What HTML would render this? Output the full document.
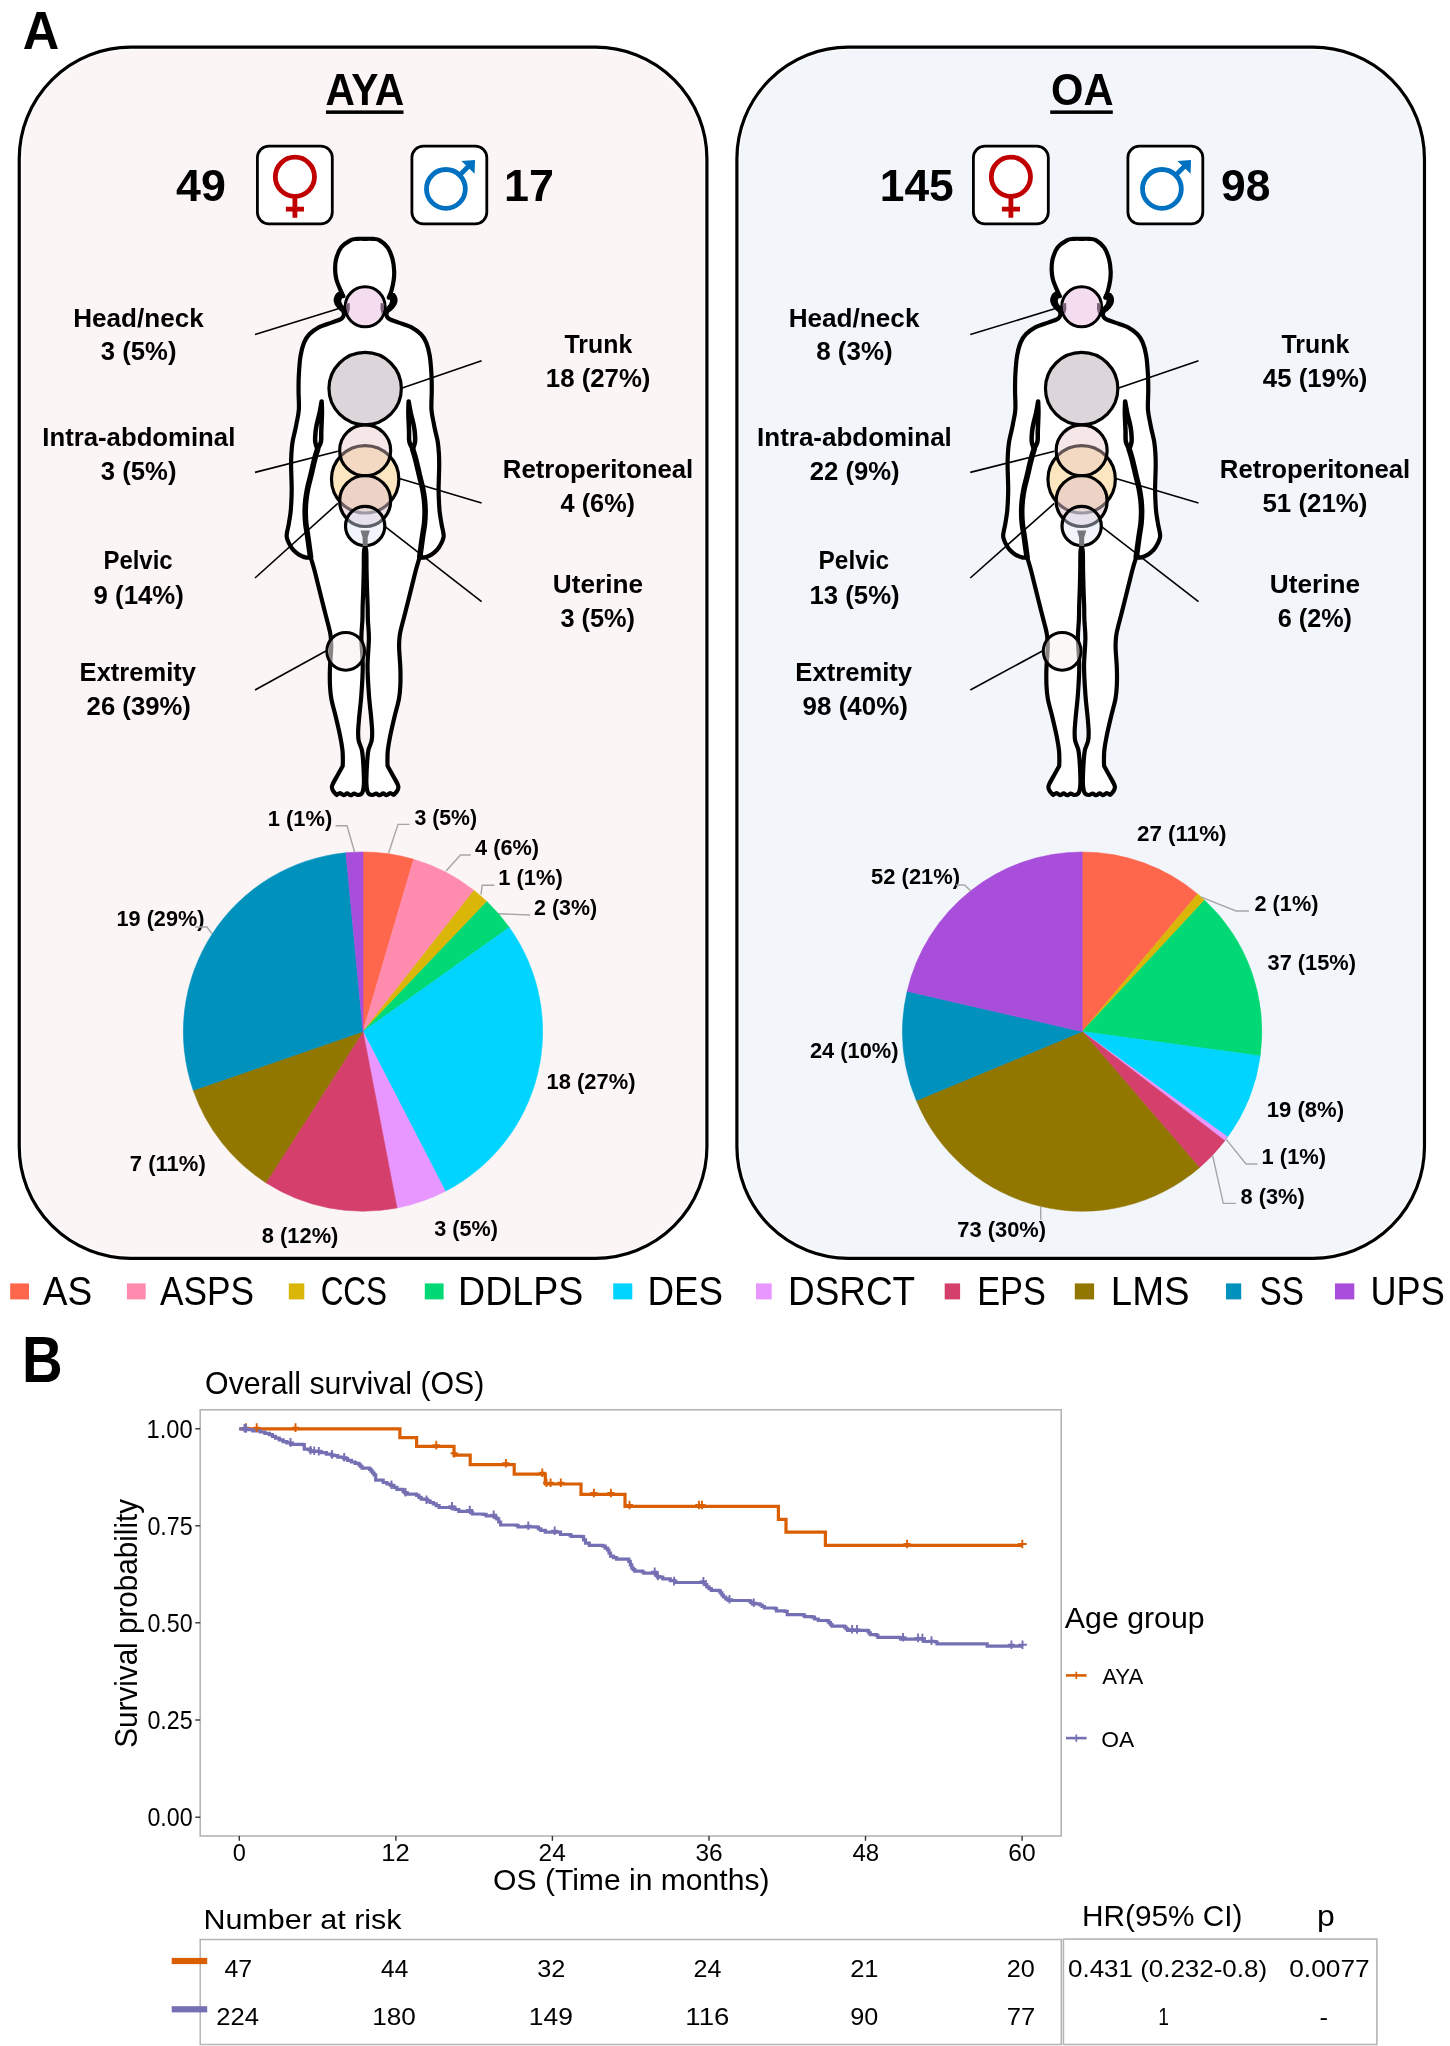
<!DOCTYPE html><html><head><meta charset="utf-8"><title>Figure</title><style>html,body{margin:0;padding:0;background:#fff}svg{display:block;will-change:transform}text{font-family:"Liberation Sans",sans-serif;fill:#000}</style></head><body>
<svg width="1450" height="2046" viewBox="0 0 1450 2046">
<rect width="1450" height="2046" fill="#fff"/>
<text x="22.79" y="49.10" font-size="53.34" textLength="36.54" lengthAdjust="spacingAndGlyphs" font-weight="bold">A</text>
<text x="21.98" y="1382.00" font-size="65.26" textLength="40.66" lengthAdjust="spacingAndGlyphs" font-weight="bold">B</text>
<rect x="22.05" y="50.00" width="682.05" height="1205.55" rx="108.7" fill="#FBF5F5"/><rect x="19.25" y="47.20" width="687.65" height="1211.15" rx="111.5" fill="none" stroke="#000" stroke-width="3.2"/>
<rect x="739.70" y="50.00" width="681.95" height="1205.55" rx="108.7" fill="#F2F6FB"/><rect x="736.90" y="47.20" width="687.55" height="1211.15" rx="111.5" fill="none" stroke="#000" stroke-width="3.2"/>
<text x="325.52" y="104.80" font-size="45.20" textLength="78.63" lengthAdjust="spacingAndGlyphs" font-weight="bold">AYA</text>
<rect x="326" y="110.4" width="77.5" height="3.5" fill="#000"/>
<text x="1050.99" y="104.80" font-size="45.20" textLength="62.49" lengthAdjust="spacingAndGlyphs" font-weight="bold">OA</text>
<rect x="1050.2" y="110.4" width="62.6" height="3.5" fill="#000"/>
<rect x="257.4" y="146.1" width="74.9" height="77.7" rx="11.5" fill="#fff" stroke="#000" stroke-width="2.8"/><rect x="411.9" y="146.1" width="74.9" height="77.7" rx="11.5" fill="#fff" stroke="#000" stroke-width="2.8"/><g fill="none" stroke="#C00000" stroke-width="4.8"><circle cx="294.9" cy="176.8" r="19.6"/><path d="M294.9 196.4V217.8M285.9 209.2H304.0"/></g><g fill="none" stroke="#0070C0" stroke-width="4.8"><circle cx="445.9" cy="188.9" r="19.4"/><path d="M459.6 175.2L470.3 164.5"/></g><path d="M461.4 160.9L475.0 160.1L474.6 173.7Z" fill="#0070C0"/>
<rect x="973.4" y="146.1" width="74.9" height="77.7" rx="11.5" fill="#fff" stroke="#000" stroke-width="2.8"/><rect x="1127.9" y="146.1" width="74.9" height="77.7" rx="11.5" fill="#fff" stroke="#000" stroke-width="2.8"/><g fill="none" stroke="#C00000" stroke-width="4.8"><circle cx="1010.9" cy="176.8" r="19.6"/><path d="M1010.9 196.4V217.8M1001.9 209.2H1020.0"/></g><g fill="none" stroke="#0070C0" stroke-width="4.8"><circle cx="1161.9" cy="188.9" r="19.4"/><path d="M1175.6 175.2L1186.3 164.5"/></g><path d="M1177.4 160.9L1191.0 160.1L1190.6 173.7Z" fill="#0070C0"/>
<text x="176.13" y="201.00" font-size="44.19" textLength="49.80" lengthAdjust="spacingAndGlyphs" font-weight="bold">49</text>
<text x="504.02" y="201.00" font-size="44.19" textLength="49.93" lengthAdjust="spacingAndGlyphs" font-weight="bold">17</text>
<text x="879.75" y="201.00" font-size="44.19" textLength="73.97" lengthAdjust="spacingAndGlyphs" font-weight="bold">145</text>
<text x="1220.99" y="201.00" font-size="44.19" textLength="49.35" lengthAdjust="spacingAndGlyphs" font-weight="bold">98</text>
<g transform="translate(0.0,0)">
<path d="M365.15 238.80C363.82 238.82 359.62 238.65 357.15 238.90C354.68 239.15 353.03 238.85 350.35 240.30C347.67 241.75 343.43 244.43 341.05 247.60C338.67 250.77 337.03 255.58 336.05 259.30C335.07 263.02 335.10 266.58 335.15 269.90C335.20 273.22 335.57 276.08 336.35 279.20C337.13 282.32 338.68 285.77 339.85 288.60C341.02 291.43 342.77 294.93 343.35 296.20L343.35 296.20C342.82 295.75 341.22 293.53 340.15 293.50C339.08 293.47 337.67 294.67 336.95 296.00C336.23 297.33 335.57 299.77 335.85 301.50C336.13 303.23 337.60 305.28 338.65 306.40C339.70 307.52 341.57 307.90 342.15 308.20L342.15 308.20C342.45 309.23 344.13 312.58 343.95 314.40C343.77 316.22 343.10 317.73 341.05 319.10C339.00 320.47 335.37 321.23 331.65 322.60C327.93 323.97 322.47 325.35 318.75 327.30C315.03 329.25 311.80 331.75 309.35 334.30C306.90 336.85 305.52 339.02 304.05 342.60C302.58 346.18 301.42 350.47 300.55 355.80C299.68 361.13 299.18 368.73 298.85 374.60C298.52 380.47 298.55 385.15 298.55 391.00C298.55 396.85 299.20 404.23 298.85 409.70C298.50 415.17 297.06 420.42 296.45 423.80C295.84 427.18 295.84 427.02 295.20 430.00C294.56 432.98 293.23 437.78 292.60 441.70C291.97 445.62 291.65 449.58 291.40 453.50C291.15 457.42 291.10 461.30 291.10 465.20C291.10 469.10 291.30 472.98 291.40 476.90C291.50 480.82 291.70 484.78 291.70 488.70C291.70 492.62 291.58 496.50 291.40 500.40C291.22 504.30 291.03 508.20 290.60 512.10C290.17 516.00 289.40 520.38 288.80 523.80C288.20 527.22 287.35 530.45 287.00 532.60C286.65 534.75 286.54 535.30 286.70 536.70C286.86 538.10 287.41 539.62 287.95 541.00C288.49 542.38 289.08 543.53 289.95 545.00C290.82 546.47 291.67 548.20 293.15 549.80C294.63 551.40 296.63 553.30 298.85 554.60C301.07 555.90 304.50 557.20 306.45 557.60C308.40 558.00 309.87 557.10 310.55 557.00L310.55 557.00C311.16 559.05 312.98 564.83 314.20 569.30C315.42 573.77 316.64 578.97 317.85 583.80C319.06 588.63 320.24 593.47 321.45 598.30C322.66 603.13 323.92 608.18 325.10 612.80C326.28 617.42 327.67 622.47 328.55 626.00C329.42 629.53 329.93 631.50 330.35 634.00C330.77 636.50 330.92 638.50 331.05 641.00C331.18 643.50 331.33 644.45 331.15 649.00C330.97 653.55 330.15 662.30 329.95 668.30C329.75 674.30 329.72 679.90 329.95 685.00C330.18 690.10 330.35 693.48 331.35 698.90C332.35 704.32 334.48 711.30 335.95 717.50C337.42 723.70 339.07 730.68 340.15 736.10C341.23 741.52 342.00 746.02 342.45 750.00C342.90 753.98 342.81 757.35 342.85 760.00C342.89 762.65 342.72 764.92 342.70 765.90L342.70 765.90C342.38 766.48 341.61 767.85 340.75 769.40C339.89 770.95 338.90 772.72 337.55 775.20C336.20 777.68 333.58 782.23 332.65 784.30C331.72 786.37 331.85 786.45 331.95 787.60C332.05 788.75 332.47 789.98 333.25 791.20C334.03 792.42 336.08 794.28 336.65 794.90L336.65 794.80C337.23 794.53 338.98 793.13 340.15 793.20C341.32 793.27 342.48 795.17 343.65 795.20C344.82 795.23 345.98 793.40 347.15 793.40C348.32 793.40 349.48 795.17 350.65 795.20C351.82 795.23 352.98 793.63 354.15 793.60C355.32 793.57 356.48 794.93 357.65 795.00C358.82 795.07 360.27 794.67 361.15 794.00C362.03 793.33 362.48 792.92 362.95 791.00C363.42 789.08 363.85 786.23 363.95 782.50C364.05 778.77 363.62 770.92 363.55 768.60L363.55 768.60C363.45 767.05 363.23 762.40 362.95 759.30C362.67 756.20 362.57 753.10 361.85 750.00C361.13 746.90 359.27 743.80 358.65 740.70C358.03 737.60 358.07 735.27 358.15 731.40C358.23 727.53 358.61 723.68 359.15 717.50C359.69 711.32 360.80 702.82 361.40 694.30C362.00 685.78 362.75 675.68 362.75 666.40C362.75 657.12 361.46 646.33 361.40 638.60C361.34 630.87 362.19 625.43 362.40 620.00C362.61 614.57 362.51 611.00 362.65 606.00C362.79 601.00 363.07 596.00 363.25 590.00C363.43 584.00 363.63 576.33 363.75 570.00C363.87 563.67 363.72 555.95 363.95 552.00C364.18 548.05 364.95 547.25 365.15 546.30L365.15 546.30C365.35 547.25 366.12 548.05 366.35 552.00C366.58 555.95 366.43 563.67 366.55 570.00C366.67 576.33 366.87 584.00 367.05 590.00C367.23 596.00 367.51 601.00 367.65 606.00C367.79 611.00 367.69 614.57 367.90 620.00C368.11 625.43 368.96 630.87 368.90 638.60C368.84 646.33 367.55 657.12 367.55 666.40C367.55 675.68 368.30 685.78 368.90 694.30C369.50 702.82 370.61 711.32 371.15 717.50C371.69 723.68 372.07 727.53 372.15 731.40C372.23 735.27 372.27 737.60 371.65 740.70C371.03 743.80 369.17 746.90 368.45 750.00C367.73 753.10 367.63 756.20 367.35 759.30C367.07 762.40 366.85 767.05 366.75 768.60L366.75 768.60C366.68 770.92 366.25 778.77 366.35 782.50C366.45 786.23 366.88 789.08 367.35 791.00C367.82 792.92 368.27 793.33 369.15 794.00C370.03 794.67 371.48 795.07 372.65 795.00C373.82 794.93 374.98 793.57 376.15 793.60C377.32 793.63 378.48 795.23 379.65 795.20C380.82 795.17 381.98 793.40 383.15 793.40C384.32 793.40 385.48 795.23 386.65 795.20C387.82 795.17 388.98 793.27 390.15 793.20C391.32 793.13 393.07 794.53 393.65 794.80L393.65 794.90C394.22 794.28 396.27 792.42 397.05 791.20C397.83 789.98 398.25 788.75 398.35 787.60C398.45 786.45 398.58 786.37 397.65 784.30C396.72 782.23 394.10 777.68 392.75 775.20C391.40 772.72 390.41 770.95 389.55 769.40C388.69 767.85 387.92 766.48 387.60 765.90L387.60 765.90C387.57 764.92 387.41 762.65 387.45 760.00C387.49 757.35 387.40 753.98 387.85 750.00C388.30 746.02 389.07 741.52 390.15 736.10C391.23 730.68 392.88 723.70 394.35 717.50C395.82 711.30 397.95 704.32 398.95 698.90C399.95 693.48 400.12 690.10 400.35 685.00C400.58 679.90 400.55 674.30 400.35 668.30C400.15 662.30 399.33 653.55 399.15 649.00C398.97 644.45 399.12 643.50 399.25 641.00C399.38 638.50 399.53 636.50 399.95 634.00C400.37 631.50 400.88 629.53 401.75 626.00C402.62 622.47 404.02 617.42 405.20 612.80C406.38 608.18 407.64 603.13 408.85 598.30C410.06 593.47 411.24 588.63 412.45 583.80C413.66 578.97 414.88 573.77 416.10 569.30C417.32 564.83 419.14 559.05 419.75 557.00L419.75 557.00C420.43 557.10 421.90 558.00 423.85 557.60C425.80 557.20 429.23 555.90 431.45 554.60C433.67 553.30 435.67 551.40 437.15 549.80C438.63 548.20 439.48 546.47 440.35 545.00C441.22 543.53 441.81 542.38 442.35 541.00C442.89 539.62 443.44 538.10 443.60 536.70C443.76 535.30 443.65 534.75 443.30 532.60C442.95 530.45 442.10 527.22 441.50 523.80C440.90 520.38 440.13 516.00 439.70 512.10C439.27 508.20 439.08 504.30 438.90 500.40C438.72 496.50 438.60 492.62 438.60 488.70C438.60 484.78 438.80 480.82 438.90 476.90C439.00 472.98 439.20 469.10 439.20 465.20C439.20 461.30 439.15 457.42 438.90 453.50C438.65 449.58 438.33 445.62 437.70 441.70C437.07 437.78 435.74 432.98 435.10 430.00C434.46 427.02 434.46 427.18 433.85 423.80C433.24 420.42 431.80 415.17 431.45 409.70C431.10 404.23 431.75 396.85 431.75 391.00C431.75 385.15 431.78 380.47 431.45 374.60C431.12 368.73 430.62 361.13 429.75 355.80C428.88 350.47 427.72 346.18 426.25 342.60C424.78 339.02 423.40 336.85 420.95 334.30C418.50 331.75 415.27 329.25 411.55 327.30C407.83 325.35 402.37 323.97 398.65 322.60C394.93 321.23 391.30 320.47 389.25 319.10C387.20 317.73 386.43 316.15 386.35 314.40C386.27 312.65 388.35 309.57 388.75 308.60L388.75 308.60C389.38 308.27 391.45 307.78 392.55 306.60C393.65 305.42 395.02 303.20 395.35 301.50C395.68 299.80 395.17 297.60 394.55 296.40C393.93 295.20 392.62 294.10 391.65 294.30C390.68 294.50 389.23 297.05 388.75 297.60L388.75 297.60C389.18 296.50 390.53 293.87 391.35 291.00C392.17 288.13 393.18 283.73 393.65 280.40C394.12 277.07 394.33 274.52 394.15 271.00C393.97 267.48 393.62 263.20 392.55 259.30C391.48 255.40 389.90 250.75 387.75 247.60C385.60 244.45 382.08 241.85 379.65 240.40C377.22 238.95 375.57 239.17 373.15 238.90C370.73 238.63 366.48 238.82 365.15 238.80Z" fill="#fff" stroke="#000" stroke-width="4.2" stroke-linejoin="round"/><path d="M321.65 401.50C321.30 403.42 320.35 409.25 319.55 413.00C318.75 416.75 317.52 420.83 316.85 424.00C316.18 427.17 315.82 429.05 315.55 432.00C315.28 434.95 314.92 438.80 315.25 441.70C315.58 444.60 317.17 448.12 317.55 449.40M321.65 401.50C321.70 403.42 321.97 409.25 321.95 413.00C321.93 416.75 321.67 420.83 321.55 424.00C321.43 427.17 321.35 429.05 321.25 432.00C321.15 434.95 321.57 438.80 320.95 441.70C320.33 444.60 318.12 448.12 317.55 449.40" fill="none" stroke="#000" stroke-width="4.5" stroke-linecap="round" stroke-linejoin="round"/><path d="M317.55 449.40C317.07 451.05 315.82 454.72 314.65 459.30C313.47 463.88 311.68 472.00 310.50 476.90C309.32 481.80 308.38 484.78 307.60 488.70C306.82 492.62 306.20 496.50 305.80 500.40C305.40 504.30 305.20 508.20 305.20 512.10C305.20 516.00 305.40 519.88 305.80 523.80C306.20 527.72 307.02 531.57 307.60 535.60C308.18 539.63 308.81 544.43 309.30 548.00C309.79 551.57 310.34 555.50 310.55 557.00" fill="none" stroke="#000" stroke-width="5.6" stroke-linecap="round"/><path d="M408.65 401.50C409.00 403.42 409.95 409.25 410.75 413.00C411.55 416.75 412.78 420.83 413.45 424.00C414.12 427.17 414.48 429.05 414.75 432.00C415.02 434.95 415.38 438.80 415.05 441.70C414.72 444.60 413.13 448.12 412.75 449.40M408.65 401.50C408.60 403.42 408.33 409.25 408.35 413.00C408.37 416.75 408.63 420.83 408.75 424.00C408.87 427.17 408.95 429.05 409.05 432.00C409.15 434.95 408.73 438.80 409.35 441.70C409.97 444.60 412.18 448.12 412.75 449.40" fill="none" stroke="#000" stroke-width="4.5" stroke-linecap="round" stroke-linejoin="round"/><path d="M412.75 449.40C413.23 451.05 414.47 454.72 415.65 459.30C416.82 463.88 418.62 472.00 419.80 476.90C420.97 481.80 421.92 484.78 422.70 488.70C423.48 492.62 424.10 496.50 424.50 500.40C424.90 504.30 425.10 508.20 425.10 512.10C425.10 516.00 424.90 519.88 424.50 523.80C424.10 527.72 423.28 531.57 422.70 535.60C422.12 539.63 421.49 544.43 421.00 548.00C420.51 551.57 419.96 555.50 419.75 557.00" fill="none" stroke="#000" stroke-width="5.6" stroke-linecap="round"/><path d="M340.15 295.60C339.82 296.42 338.25 298.83 338.15 300.50C338.05 302.17 338.92 304.28 339.55 305.60C340.18 306.92 341.55 307.93 341.95 308.40" fill="none" stroke="#000" stroke-width="6.2" stroke-linecap="round"/><path d="M391.15 295.60C391.48 296.42 393.05 298.83 393.15 300.50C393.25 302.17 392.38 304.28 391.75 305.60C391.12 306.92 389.75 307.93 389.35 308.40" fill="none" stroke="#000" stroke-width="6.2" stroke-linecap="round"/>
<circle cx="365.15" cy="306.80" r="20.00" fill="rgba(236,190,226,0.52)" stroke="#000" stroke-width="3.0"/><circle cx="365.15" cy="388.60" r="36.20" fill="rgba(186,172,180,0.5)" stroke="#000" stroke-width="3.2"/><circle cx="365.15" cy="479.30" r="33.70" fill="rgba(250,205,130,0.5)" stroke="#000" stroke-width="3.2"/><circle cx="365.15" cy="450.40" r="25.50" fill="rgba(232,198,198,0.42)" stroke="#000" stroke-width="3.2"/><circle cx="365.15" cy="501.00" r="25.50" fill="rgba(220,192,202,0.5)" stroke="#000" stroke-width="3.2"/><circle cx="365.15" cy="526.00" r="19.65" fill="rgba(222,230,246,0.42)" stroke="#000" stroke-width="3.2"/><circle cx="345.70" cy="651.30" r="18.90" fill="rgba(250,240,240,0.55)" stroke="#000" stroke-width="3.0"/><path d="M360.45 530.4 L369.85 530.4 L367.65 537.5 L367.65 546 L362.65 546 L362.65 537.5 Z" fill="#73767b"/><path d="M345.95 303.40 L349.65 303.00 L349.85 309.00 L348.55 314.60 L346.45 309.50 Z" fill="#7c6078"/><path d="M384.35 303.40 L380.65 303.00 L380.45 309.00 L381.75 314.60 L383.85 309.50 Z" fill="#7c6078"/>
<line x1="255.0" y1="334.6" x2="339.0" y2="308.5" stroke="#000" stroke-width="1.6"/><line x1="255.0" y1="472.4" x2="337.8" y2="451.3" stroke="#000" stroke-width="1.6"/><line x1="255.0" y1="578.0" x2="337.8" y2="503.4" stroke="#000" stroke-width="1.6"/><line x1="255.0" y1="690.0" x2="325.9" y2="651.0" stroke="#000" stroke-width="1.6"/><line x1="402.2" y1="388.1" x2="481.6" y2="360.8" stroke="#000" stroke-width="1.6"/><line x1="398.5" y1="478.3" x2="481.6" y2="503.0" stroke="#000" stroke-width="1.6"/><line x1="384.8" y1="526.4" x2="481.6" y2="601.6" stroke="#000" stroke-width="1.6"/>
</g>
<g transform="translate(716.5,0)">
<path d="M365.15 238.80C363.82 238.82 359.62 238.65 357.15 238.90C354.68 239.15 353.03 238.85 350.35 240.30C347.67 241.75 343.43 244.43 341.05 247.60C338.67 250.77 337.03 255.58 336.05 259.30C335.07 263.02 335.10 266.58 335.15 269.90C335.20 273.22 335.57 276.08 336.35 279.20C337.13 282.32 338.68 285.77 339.85 288.60C341.02 291.43 342.77 294.93 343.35 296.20L343.35 296.20C342.82 295.75 341.22 293.53 340.15 293.50C339.08 293.47 337.67 294.67 336.95 296.00C336.23 297.33 335.57 299.77 335.85 301.50C336.13 303.23 337.60 305.28 338.65 306.40C339.70 307.52 341.57 307.90 342.15 308.20L342.15 308.20C342.45 309.23 344.13 312.58 343.95 314.40C343.77 316.22 343.10 317.73 341.05 319.10C339.00 320.47 335.37 321.23 331.65 322.60C327.93 323.97 322.47 325.35 318.75 327.30C315.03 329.25 311.80 331.75 309.35 334.30C306.90 336.85 305.52 339.02 304.05 342.60C302.58 346.18 301.42 350.47 300.55 355.80C299.68 361.13 299.18 368.73 298.85 374.60C298.52 380.47 298.55 385.15 298.55 391.00C298.55 396.85 299.20 404.23 298.85 409.70C298.50 415.17 297.06 420.42 296.45 423.80C295.84 427.18 295.84 427.02 295.20 430.00C294.56 432.98 293.23 437.78 292.60 441.70C291.97 445.62 291.65 449.58 291.40 453.50C291.15 457.42 291.10 461.30 291.10 465.20C291.10 469.10 291.30 472.98 291.40 476.90C291.50 480.82 291.70 484.78 291.70 488.70C291.70 492.62 291.58 496.50 291.40 500.40C291.22 504.30 291.03 508.20 290.60 512.10C290.17 516.00 289.40 520.38 288.80 523.80C288.20 527.22 287.35 530.45 287.00 532.60C286.65 534.75 286.54 535.30 286.70 536.70C286.86 538.10 287.41 539.62 287.95 541.00C288.49 542.38 289.08 543.53 289.95 545.00C290.82 546.47 291.67 548.20 293.15 549.80C294.63 551.40 296.63 553.30 298.85 554.60C301.07 555.90 304.50 557.20 306.45 557.60C308.40 558.00 309.87 557.10 310.55 557.00L310.55 557.00C311.16 559.05 312.98 564.83 314.20 569.30C315.42 573.77 316.64 578.97 317.85 583.80C319.06 588.63 320.24 593.47 321.45 598.30C322.66 603.13 323.92 608.18 325.10 612.80C326.28 617.42 327.67 622.47 328.55 626.00C329.42 629.53 329.93 631.50 330.35 634.00C330.77 636.50 330.92 638.50 331.05 641.00C331.18 643.50 331.33 644.45 331.15 649.00C330.97 653.55 330.15 662.30 329.95 668.30C329.75 674.30 329.72 679.90 329.95 685.00C330.18 690.10 330.35 693.48 331.35 698.90C332.35 704.32 334.48 711.30 335.95 717.50C337.42 723.70 339.07 730.68 340.15 736.10C341.23 741.52 342.00 746.02 342.45 750.00C342.90 753.98 342.81 757.35 342.85 760.00C342.89 762.65 342.72 764.92 342.70 765.90L342.70 765.90C342.38 766.48 341.61 767.85 340.75 769.40C339.89 770.95 338.90 772.72 337.55 775.20C336.20 777.68 333.58 782.23 332.65 784.30C331.72 786.37 331.85 786.45 331.95 787.60C332.05 788.75 332.47 789.98 333.25 791.20C334.03 792.42 336.08 794.28 336.65 794.90L336.65 794.80C337.23 794.53 338.98 793.13 340.15 793.20C341.32 793.27 342.48 795.17 343.65 795.20C344.82 795.23 345.98 793.40 347.15 793.40C348.32 793.40 349.48 795.17 350.65 795.20C351.82 795.23 352.98 793.63 354.15 793.60C355.32 793.57 356.48 794.93 357.65 795.00C358.82 795.07 360.27 794.67 361.15 794.00C362.03 793.33 362.48 792.92 362.95 791.00C363.42 789.08 363.85 786.23 363.95 782.50C364.05 778.77 363.62 770.92 363.55 768.60L363.55 768.60C363.45 767.05 363.23 762.40 362.95 759.30C362.67 756.20 362.57 753.10 361.85 750.00C361.13 746.90 359.27 743.80 358.65 740.70C358.03 737.60 358.07 735.27 358.15 731.40C358.23 727.53 358.61 723.68 359.15 717.50C359.69 711.32 360.80 702.82 361.40 694.30C362.00 685.78 362.75 675.68 362.75 666.40C362.75 657.12 361.46 646.33 361.40 638.60C361.34 630.87 362.19 625.43 362.40 620.00C362.61 614.57 362.51 611.00 362.65 606.00C362.79 601.00 363.07 596.00 363.25 590.00C363.43 584.00 363.63 576.33 363.75 570.00C363.87 563.67 363.72 555.95 363.95 552.00C364.18 548.05 364.95 547.25 365.15 546.30L365.15 546.30C365.35 547.25 366.12 548.05 366.35 552.00C366.58 555.95 366.43 563.67 366.55 570.00C366.67 576.33 366.87 584.00 367.05 590.00C367.23 596.00 367.51 601.00 367.65 606.00C367.79 611.00 367.69 614.57 367.90 620.00C368.11 625.43 368.96 630.87 368.90 638.60C368.84 646.33 367.55 657.12 367.55 666.40C367.55 675.68 368.30 685.78 368.90 694.30C369.50 702.82 370.61 711.32 371.15 717.50C371.69 723.68 372.07 727.53 372.15 731.40C372.23 735.27 372.27 737.60 371.65 740.70C371.03 743.80 369.17 746.90 368.45 750.00C367.73 753.10 367.63 756.20 367.35 759.30C367.07 762.40 366.85 767.05 366.75 768.60L366.75 768.60C366.68 770.92 366.25 778.77 366.35 782.50C366.45 786.23 366.88 789.08 367.35 791.00C367.82 792.92 368.27 793.33 369.15 794.00C370.03 794.67 371.48 795.07 372.65 795.00C373.82 794.93 374.98 793.57 376.15 793.60C377.32 793.63 378.48 795.23 379.65 795.20C380.82 795.17 381.98 793.40 383.15 793.40C384.32 793.40 385.48 795.23 386.65 795.20C387.82 795.17 388.98 793.27 390.15 793.20C391.32 793.13 393.07 794.53 393.65 794.80L393.65 794.90C394.22 794.28 396.27 792.42 397.05 791.20C397.83 789.98 398.25 788.75 398.35 787.60C398.45 786.45 398.58 786.37 397.65 784.30C396.72 782.23 394.10 777.68 392.75 775.20C391.40 772.72 390.41 770.95 389.55 769.40C388.69 767.85 387.92 766.48 387.60 765.90L387.60 765.90C387.57 764.92 387.41 762.65 387.45 760.00C387.49 757.35 387.40 753.98 387.85 750.00C388.30 746.02 389.07 741.52 390.15 736.10C391.23 730.68 392.88 723.70 394.35 717.50C395.82 711.30 397.95 704.32 398.95 698.90C399.95 693.48 400.12 690.10 400.35 685.00C400.58 679.90 400.55 674.30 400.35 668.30C400.15 662.30 399.33 653.55 399.15 649.00C398.97 644.45 399.12 643.50 399.25 641.00C399.38 638.50 399.53 636.50 399.95 634.00C400.37 631.50 400.88 629.53 401.75 626.00C402.62 622.47 404.02 617.42 405.20 612.80C406.38 608.18 407.64 603.13 408.85 598.30C410.06 593.47 411.24 588.63 412.45 583.80C413.66 578.97 414.88 573.77 416.10 569.30C417.32 564.83 419.14 559.05 419.75 557.00L419.75 557.00C420.43 557.10 421.90 558.00 423.85 557.60C425.80 557.20 429.23 555.90 431.45 554.60C433.67 553.30 435.67 551.40 437.15 549.80C438.63 548.20 439.48 546.47 440.35 545.00C441.22 543.53 441.81 542.38 442.35 541.00C442.89 539.62 443.44 538.10 443.60 536.70C443.76 535.30 443.65 534.75 443.30 532.60C442.95 530.45 442.10 527.22 441.50 523.80C440.90 520.38 440.13 516.00 439.70 512.10C439.27 508.20 439.08 504.30 438.90 500.40C438.72 496.50 438.60 492.62 438.60 488.70C438.60 484.78 438.80 480.82 438.90 476.90C439.00 472.98 439.20 469.10 439.20 465.20C439.20 461.30 439.15 457.42 438.90 453.50C438.65 449.58 438.33 445.62 437.70 441.70C437.07 437.78 435.74 432.98 435.10 430.00C434.46 427.02 434.46 427.18 433.85 423.80C433.24 420.42 431.80 415.17 431.45 409.70C431.10 404.23 431.75 396.85 431.75 391.00C431.75 385.15 431.78 380.47 431.45 374.60C431.12 368.73 430.62 361.13 429.75 355.80C428.88 350.47 427.72 346.18 426.25 342.60C424.78 339.02 423.40 336.85 420.95 334.30C418.50 331.75 415.27 329.25 411.55 327.30C407.83 325.35 402.37 323.97 398.65 322.60C394.93 321.23 391.30 320.47 389.25 319.10C387.20 317.73 386.43 316.15 386.35 314.40C386.27 312.65 388.35 309.57 388.75 308.60L388.75 308.60C389.38 308.27 391.45 307.78 392.55 306.60C393.65 305.42 395.02 303.20 395.35 301.50C395.68 299.80 395.17 297.60 394.55 296.40C393.93 295.20 392.62 294.10 391.65 294.30C390.68 294.50 389.23 297.05 388.75 297.60L388.75 297.60C389.18 296.50 390.53 293.87 391.35 291.00C392.17 288.13 393.18 283.73 393.65 280.40C394.12 277.07 394.33 274.52 394.15 271.00C393.97 267.48 393.62 263.20 392.55 259.30C391.48 255.40 389.90 250.75 387.75 247.60C385.60 244.45 382.08 241.85 379.65 240.40C377.22 238.95 375.57 239.17 373.15 238.90C370.73 238.63 366.48 238.82 365.15 238.80Z" fill="#fff" stroke="#000" stroke-width="4.2" stroke-linejoin="round"/><path d="M321.65 401.50C321.30 403.42 320.35 409.25 319.55 413.00C318.75 416.75 317.52 420.83 316.85 424.00C316.18 427.17 315.82 429.05 315.55 432.00C315.28 434.95 314.92 438.80 315.25 441.70C315.58 444.60 317.17 448.12 317.55 449.40M321.65 401.50C321.70 403.42 321.97 409.25 321.95 413.00C321.93 416.75 321.67 420.83 321.55 424.00C321.43 427.17 321.35 429.05 321.25 432.00C321.15 434.95 321.57 438.80 320.95 441.70C320.33 444.60 318.12 448.12 317.55 449.40" fill="none" stroke="#000" stroke-width="4.5" stroke-linecap="round" stroke-linejoin="round"/><path d="M317.55 449.40C317.07 451.05 315.82 454.72 314.65 459.30C313.47 463.88 311.68 472.00 310.50 476.90C309.32 481.80 308.38 484.78 307.60 488.70C306.82 492.62 306.20 496.50 305.80 500.40C305.40 504.30 305.20 508.20 305.20 512.10C305.20 516.00 305.40 519.88 305.80 523.80C306.20 527.72 307.02 531.57 307.60 535.60C308.18 539.63 308.81 544.43 309.30 548.00C309.79 551.57 310.34 555.50 310.55 557.00" fill="none" stroke="#000" stroke-width="5.6" stroke-linecap="round"/><path d="M408.65 401.50C409.00 403.42 409.95 409.25 410.75 413.00C411.55 416.75 412.78 420.83 413.45 424.00C414.12 427.17 414.48 429.05 414.75 432.00C415.02 434.95 415.38 438.80 415.05 441.70C414.72 444.60 413.13 448.12 412.75 449.40M408.65 401.50C408.60 403.42 408.33 409.25 408.35 413.00C408.37 416.75 408.63 420.83 408.75 424.00C408.87 427.17 408.95 429.05 409.05 432.00C409.15 434.95 408.73 438.80 409.35 441.70C409.97 444.60 412.18 448.12 412.75 449.40" fill="none" stroke="#000" stroke-width="4.5" stroke-linecap="round" stroke-linejoin="round"/><path d="M412.75 449.40C413.23 451.05 414.47 454.72 415.65 459.30C416.82 463.88 418.62 472.00 419.80 476.90C420.97 481.80 421.92 484.78 422.70 488.70C423.48 492.62 424.10 496.50 424.50 500.40C424.90 504.30 425.10 508.20 425.10 512.10C425.10 516.00 424.90 519.88 424.50 523.80C424.10 527.72 423.28 531.57 422.70 535.60C422.12 539.63 421.49 544.43 421.00 548.00C420.51 551.57 419.96 555.50 419.75 557.00" fill="none" stroke="#000" stroke-width="5.6" stroke-linecap="round"/><path d="M340.15 295.60C339.82 296.42 338.25 298.83 338.15 300.50C338.05 302.17 338.92 304.28 339.55 305.60C340.18 306.92 341.55 307.93 341.95 308.40" fill="none" stroke="#000" stroke-width="6.2" stroke-linecap="round"/><path d="M391.15 295.60C391.48 296.42 393.05 298.83 393.15 300.50C393.25 302.17 392.38 304.28 391.75 305.60C391.12 306.92 389.75 307.93 389.35 308.40" fill="none" stroke="#000" stroke-width="6.2" stroke-linecap="round"/>
<circle cx="365.15" cy="306.80" r="20.00" fill="rgba(236,190,226,0.52)" stroke="#000" stroke-width="3.0"/><circle cx="365.15" cy="388.60" r="36.20" fill="rgba(186,172,180,0.5)" stroke="#000" stroke-width="3.2"/><circle cx="365.15" cy="479.30" r="33.70" fill="rgba(250,205,130,0.5)" stroke="#000" stroke-width="3.2"/><circle cx="365.15" cy="450.40" r="25.50" fill="rgba(232,198,198,0.42)" stroke="#000" stroke-width="3.2"/><circle cx="365.15" cy="501.00" r="25.50" fill="rgba(220,192,202,0.5)" stroke="#000" stroke-width="3.2"/><circle cx="365.15" cy="526.00" r="19.65" fill="rgba(222,230,246,0.42)" stroke="#000" stroke-width="3.2"/><circle cx="345.70" cy="651.30" r="18.90" fill="rgba(250,240,240,0.55)" stroke="#000" stroke-width="3.0"/><path d="M360.45 530.4 L369.85 530.4 L367.65 537.5 L367.65 546 L362.65 546 L362.65 537.5 Z" fill="#73767b"/><path d="M345.95 303.40 L349.65 303.00 L349.85 309.00 L348.55 314.60 L346.45 309.50 Z" fill="#7c6078"/><path d="M384.35 303.40 L380.65 303.00 L380.45 309.00 L381.75 314.60 L383.85 309.50 Z" fill="#7c6078"/>
<line x1="253.8" y1="334.6" x2="339.0" y2="308.5" stroke="#000" stroke-width="1.6"/><line x1="253.8" y1="472.4" x2="337.8" y2="451.3" stroke="#000" stroke-width="1.6"/><line x1="253.8" y1="578.0" x2="337.8" y2="503.4" stroke="#000" stroke-width="1.6"/><line x1="253.8" y1="690.0" x2="325.9" y2="651.0" stroke="#000" stroke-width="1.6"/><line x1="402.2" y1="388.1" x2="482.0" y2="360.8" stroke="#000" stroke-width="1.6"/><line x1="398.5" y1="478.3" x2="482.0" y2="503.0" stroke="#000" stroke-width="1.6"/><line x1="384.8" y1="526.4" x2="482.0" y2="601.6" stroke="#000" stroke-width="1.6"/>
</g>
<text x="73.28" y="326.70" font-size="25.29" textLength="130.38" lengthAdjust="spacingAndGlyphs" font-weight="bold">Head/neck</text>
<text x="100.84" y="360.00" font-size="25.29" textLength="75.63" lengthAdjust="spacingAndGlyphs" font-weight="bold">3 (5%)</text>
<text x="42.30" y="446.30" font-size="25.29" textLength="192.99" lengthAdjust="spacingAndGlyphs" font-weight="bold">Intra-abdominal</text>
<text x="100.84" y="479.90" font-size="25.29" textLength="75.63" lengthAdjust="spacingAndGlyphs" font-weight="bold">3 (5%)</text>
<text x="103.42" y="569.20" font-size="25.29" textLength="69.28" lengthAdjust="spacingAndGlyphs" font-weight="bold">Pelvic</text>
<text x="93.62" y="604.00" font-size="25.29" textLength="90.25" lengthAdjust="spacingAndGlyphs" font-weight="bold">9 (14%)</text>
<text x="79.62" y="681.40" font-size="25.29" textLength="116.33" lengthAdjust="spacingAndGlyphs" font-weight="bold">Extremity</text>
<text x="86.63" y="715.00" font-size="25.29" textLength="104.22" lengthAdjust="spacingAndGlyphs" font-weight="bold">26 (39%)</text>
<text x="564.53" y="353.40" font-size="25.29" textLength="67.72" lengthAdjust="spacingAndGlyphs" font-weight="bold">Trunk</text>
<text x="545.80" y="387.40" font-size="25.29" textLength="104.65" lengthAdjust="spacingAndGlyphs" font-weight="bold">18 (27%)</text>
<text x="502.80" y="477.50" font-size="25.29" textLength="190.41" lengthAdjust="spacingAndGlyphs" font-weight="bold">Retroperitoneal</text>
<text x="560.62" y="511.50" font-size="25.29" textLength="74.43" lengthAdjust="spacingAndGlyphs" font-weight="bold">4 (6%)</text>
<text x="552.83" y="593.40" font-size="25.29" textLength="90.37" lengthAdjust="spacingAndGlyphs" font-weight="bold">Uterine</text>
<text x="560.44" y="627.20" font-size="25.29" textLength="74.61" lengthAdjust="spacingAndGlyphs" font-weight="bold">3 (5%)</text>
<text x="788.67" y="326.70" font-size="25.29" textLength="130.79" lengthAdjust="spacingAndGlyphs" font-weight="bold">Head/neck</text>
<text x="816.19" y="360.00" font-size="25.29" textLength="76.49" lengthAdjust="spacingAndGlyphs" font-weight="bold">8 (3%)</text>
<text x="757.09" y="446.30" font-size="25.29" textLength="194.72" lengthAdjust="spacingAndGlyphs" font-weight="bold">Intra-abdominal</text>
<text x="809.83" y="479.90" font-size="25.29" textLength="89.84" lengthAdjust="spacingAndGlyphs" font-weight="bold">22 (9%)</text>
<text x="818.59" y="569.20" font-size="25.29" textLength="70.52" lengthAdjust="spacingAndGlyphs" font-weight="bold">Pelvic</text>
<text x="809.40" y="604.00" font-size="25.29" textLength="90.27" lengthAdjust="spacingAndGlyphs" font-weight="bold">13 (5%)</text>
<text x="795.31" y="681.40" font-size="25.29" textLength="116.84" lengthAdjust="spacingAndGlyphs" font-weight="bold">Extremity</text>
<text x="802.62" y="715.00" font-size="25.29" textLength="105.24" lengthAdjust="spacingAndGlyphs" font-weight="bold">98 (40%)</text>
<text x="1281.53" y="353.40" font-size="25.29" textLength="67.72" lengthAdjust="spacingAndGlyphs" font-weight="bold">Trunk</text>
<text x="1262.81" y="387.40" font-size="25.29" textLength="104.64" lengthAdjust="spacingAndGlyphs" font-weight="bold">45 (19%)</text>
<text x="1219.80" y="477.50" font-size="25.29" textLength="190.41" lengthAdjust="spacingAndGlyphs" font-weight="bold">Retroperitoneal</text>
<text x="1262.42" y="511.50" font-size="25.29" textLength="105.04" lengthAdjust="spacingAndGlyphs" font-weight="bold">51 (21%)</text>
<text x="1269.83" y="593.40" font-size="25.29" textLength="90.37" lengthAdjust="spacingAndGlyphs" font-weight="bold">Uterine</text>
<text x="1277.69" y="627.20" font-size="25.29" textLength="74.35" lengthAdjust="spacingAndGlyphs" font-weight="bold">6 (2%)</text>
<path d="M363.00 1031.60 L363.00 852.00 A179.60 179.60 0 0 1 413.60 859.28 Z" fill="#FF674D" stroke="#FF674D" stroke-width="0.6"/><path d="M363.00 1031.60 L413.60 859.28 A179.60 179.60 0 0 1 474.02 890.42 Z" fill="#FF8CAF" stroke="#FF8CAF" stroke-width="0.6"/><path d="M363.00 1031.60 L474.02 890.42 A179.60 179.60 0 0 1 486.94 901.62 Z" fill="#D9B608" stroke="#D9B608" stroke-width="0.6"/><path d="M363.00 1031.60 L486.94 901.62 A179.60 179.60 0 0 1 509.30 927.42 Z" fill="#02D873" stroke="#02D873" stroke-width="0.6"/><path d="M363.00 1031.60 L509.30 927.42 A179.60 179.60 0 0 1 445.30 1191.23 Z" fill="#00D4FF" stroke="#00D4FF" stroke-width="0.6"/><path d="M363.00 1031.60 L445.30 1191.23 A179.60 179.60 0 0 1 396.99 1207.95 Z" fill="#E797FF" stroke="#E797FF" stroke-width="0.6"/><path d="M363.00 1031.60 L396.99 1207.95 A179.60 179.60 0 0 1 265.90 1182.69 Z" fill="#D43F6B" stroke="#D43F6B" stroke-width="0.6"/><path d="M363.00 1031.60 L265.90 1182.69 A179.60 179.60 0 0 1 193.28 1090.34 Z" fill="#917600" stroke="#917600" stroke-width="0.6"/><path d="M363.00 1031.60 L193.28 1090.34 A179.60 179.60 0 0 1 345.93 852.81 Z" fill="#0091BD" stroke="#0091BD" stroke-width="0.6"/><path d="M363.00 1031.60 L345.93 852.81 A179.60 179.60 0 0 1 363.00 852.00 Z" fill="#A84EDB" stroke="#A84EDB" stroke-width="0.6"/>
<path d="M1082.20 1031.60 L1082.20 852.00 A179.60 179.60 0 0 1 1197.64 894.02 Z" fill="#FF674D" stroke="#FF674D" stroke-width="0.6"/><path d="M1082.20 1031.60 L1197.64 894.02 A179.60 179.60 0 0 1 1204.60 900.17 Z" fill="#D9B608" stroke="#D9B608" stroke-width="0.6"/><path d="M1082.20 1031.60 L1204.60 900.17 A179.60 179.60 0 0 1 1260.15 1055.91 Z" fill="#02D873" stroke="#02D873" stroke-width="0.6"/><path d="M1082.20 1031.60 L1260.15 1055.91 A179.60 179.60 0 0 1 1227.64 1136.98 Z" fill="#00D4FF" stroke="#00D4FF" stroke-width="0.6"/><path d="M1082.20 1031.60 L1227.64 1136.98 A179.60 179.60 0 0 1 1224.86 1140.70 Z" fill="#E797FF" stroke="#E797FF" stroke-width="0.6"/><path d="M1082.20 1031.60 L1224.86 1140.70 A179.60 179.60 0 0 1 1199.41 1167.68 Z" fill="#D43F6B" stroke="#D43F6B" stroke-width="0.6"/><path d="M1082.20 1031.60 L1199.41 1167.68 A179.60 179.60 0 0 1 916.38 1100.60 Z" fill="#917600" stroke="#917600" stroke-width="0.6"/><path d="M1082.20 1031.60 L916.38 1100.60 A179.60 179.60 0 0 1 907.18 991.31 Z" fill="#0091BD" stroke="#0091BD" stroke-width="0.6"/><path d="M1082.20 1031.60 L907.18 991.31 A179.60 179.60 0 0 1 1082.20 852.00 Z" fill="#A84EDB" stroke="#A84EDB" stroke-width="0.6"/>
<text x="267.74" y="826.10" font-size="21.51" textLength="64.44" lengthAdjust="spacingAndGlyphs" font-weight="bold">1 (1%)</text>
<text x="414.53" y="825.40" font-size="21.51" textLength="62.51" lengthAdjust="spacingAndGlyphs" font-weight="bold">3 (5%)</text>
<text x="475.07" y="855.40" font-size="21.51" textLength="64.00" lengthAdjust="spacingAndGlyphs" font-weight="bold">4 (6%)</text>
<text x="498.34" y="885.40" font-size="21.51" textLength="64.44" lengthAdjust="spacingAndGlyphs" font-weight="bold">1 (1%)</text>
<text x="534.07" y="915.20" font-size="21.51" textLength="62.98" lengthAdjust="spacingAndGlyphs" font-weight="bold">2 (3%)</text>
<text x="116.56" y="926.20" font-size="21.51" textLength="87.90" lengthAdjust="spacingAndGlyphs" font-weight="bold">19 (29%)</text>
<text x="546.64" y="1089.40" font-size="21.51" textLength="88.82" lengthAdjust="spacingAndGlyphs" font-weight="bold">18 (27%)</text>
<text x="129.87" y="1170.90" font-size="21.51" textLength="75.91" lengthAdjust="spacingAndGlyphs" font-weight="bold">7 (11%)</text>
<text x="261.82" y="1243.40" font-size="21.51" textLength="76.56" lengthAdjust="spacingAndGlyphs" font-weight="bold">8 (12%)</text>
<text x="434.33" y="1235.90" font-size="21.51" textLength="63.54" lengthAdjust="spacingAndGlyphs" font-weight="bold">3 (5%)</text>
<text x="1136.94" y="840.80" font-size="21.51" textLength="89.57" lengthAdjust="spacingAndGlyphs" font-weight="bold">27 (11%)</text>
<text x="1254.56" y="911.40" font-size="21.51" textLength="63.81" lengthAdjust="spacingAndGlyphs" font-weight="bold">2 (1%)</text>
<text x="1267.62" y="970.00" font-size="21.51" textLength="88.34" lengthAdjust="spacingAndGlyphs" font-weight="bold">37 (15%)</text>
<text x="1266.73" y="1117.40" font-size="21.51" textLength="77.36" lengthAdjust="spacingAndGlyphs" font-weight="bold">19 (8%)</text>
<text x="1261.64" y="1164.40" font-size="21.51" textLength="64.44" lengthAdjust="spacingAndGlyphs" font-weight="bold">1 (1%)</text>
<text x="1240.52" y="1204.30" font-size="21.51" textLength="64.15" lengthAdjust="spacingAndGlyphs" font-weight="bold">8 (3%)</text>
<text x="957.28" y="1237.20" font-size="21.51" textLength="88.78" lengthAdjust="spacingAndGlyphs" font-weight="bold">73 (30%)</text>
<text x="809.96" y="1057.60" font-size="21.51" textLength="88.60" lengthAdjust="spacingAndGlyphs" font-weight="bold">24 (10%)</text>
<text x="871.14" y="884.40" font-size="21.51" textLength="88.92" lengthAdjust="spacingAndGlyphs" font-weight="bold">52 (21%)</text>
<polyline points="335.5,825.7 347.0,825.7 354.6,852.0" fill="none" stroke="#A6A6A6" stroke-width="1.4"/>
<polyline points="409.5,824.4 398.0,824.4 388.6,853.0" fill="none" stroke="#A6A6A6" stroke-width="1.4"/>
<polyline points="470.7,855.0 460.5,855.0 446.0,871.0" fill="none" stroke="#A6A6A6" stroke-width="1.4"/>
<polyline points="494.4,885.2 482.2,885.2 481.0,894.6" fill="none" stroke="#A6A6A6" stroke-width="1.4"/>
<polyline points="530.0,915.0 498.8,913.8" fill="none" stroke="#A6A6A6" stroke-width="1.4"/>
<polyline points="195.0,927.0 207.0,927.0 212.0,933.8" fill="none" stroke="#A6A6A6" stroke-width="1.4"/>
<polyline points="1249.0,911.0 1236.0,911.0 1200.6,896.9" fill="none" stroke="#A6A6A6" stroke-width="1.4"/>
<polyline points="1257.5,1164.0 1246.0,1164.0 1225.4,1138.4" fill="none" stroke="#A6A6A6" stroke-width="1.4"/>
<polyline points="1236.0,1203.4 1223.3,1203.4 1212.6,1155.5" fill="none" stroke="#A6A6A6" stroke-width="1.4"/>
<polyline points="1040.7,1206.8 1040.7,1219.7" fill="none" stroke="#A6A6A6" stroke-width="1.4"/>
<polyline points="956.0,885.0 964.6,885.0 971.0,891.3" fill="none" stroke="#A6A6A6" stroke-width="1.4"/>
<rect x="10.2" y="1283.4" width="18.8" height="16" fill="#FF674D"/>
<text x="42.73" y="1305.00" font-size="40.55" textLength="49.44" lengthAdjust="spacingAndGlyphs">AS</text>
<rect x="126.9" y="1283.4" width="18.8" height="16" fill="#FF8CAF"/>
<text x="159.93" y="1305.00" font-size="40.55" textLength="94.06" lengthAdjust="spacingAndGlyphs">ASPS</text>
<rect x="288.8" y="1283.4" width="15.5" height="16" fill="#D9B608"/>
<text x="320.63" y="1305.00" font-size="40.55" textLength="66.50" lengthAdjust="spacingAndGlyphs">CCS</text>
<rect x="424.8" y="1283.4" width="18.8" height="16" fill="#02D873"/>
<text x="458.12" y="1305.00" font-size="40.55" textLength="125.04" lengthAdjust="spacingAndGlyphs">DDLPS</text>
<rect x="613.2" y="1283.4" width="19.1" height="16" fill="#00D4FF"/>
<text x="647.49" y="1305.00" font-size="40.55" textLength="75.57" lengthAdjust="spacingAndGlyphs">DES</text>
<rect x="756.0" y="1283.4" width="15.7" height="16" fill="#E797FF"/>
<text x="787.97" y="1305.00" font-size="40.55" textLength="127.15" lengthAdjust="spacingAndGlyphs">DSRCT</text>
<rect x="944.7" y="1283.4" width="15.4" height="16" fill="#D43F6B"/>
<text x="977.19" y="1305.00" font-size="40.55" textLength="68.66" lengthAdjust="spacingAndGlyphs">EPS</text>
<rect x="1074.8" y="1283.4" width="19.3" height="16" fill="#917600"/>
<text x="1110.86" y="1305.00" font-size="40.55" textLength="78.77" lengthAdjust="spacingAndGlyphs">LMS</text>
<rect x="1226.0" y="1283.4" width="15.2" height="16" fill="#0091BD"/>
<text x="1259.50" y="1305.00" font-size="40.55" textLength="44.40" lengthAdjust="spacingAndGlyphs">SS</text>
<rect x="1335.0" y="1283.4" width="19.3" height="16" fill="#A84EDB"/>
<text x="1370.52" y="1305.00" font-size="40.55" textLength="74.21" lengthAdjust="spacingAndGlyphs">UPS</text>
<rect x="200.2" y="1409.8" width="861" height="426.2" fill="#fff" stroke="#B5B5B5" stroke-width="1.6"/>
<text x="205.08" y="1394.00" font-size="31.25" textLength="279.29" lengthAdjust="spacingAndGlyphs">Overall survival (OS)</text>
<text x="146.50" y="1437.70" font-size="25.58" textLength="46.11" lengthAdjust="spacingAndGlyphs">1.00</text>
<line x1="195.3" y1="1428.8" x2="200.2" y2="1428.8" stroke="#333" stroke-width="1.4"/>
<text x="147.39" y="1534.70" font-size="25.58" textLength="45.27" lengthAdjust="spacingAndGlyphs">0.75</text>
<line x1="195.3" y1="1525.8" x2="200.2" y2="1525.8" stroke="#333" stroke-width="1.4"/>
<text x="147.39" y="1631.70" font-size="25.58" textLength="45.19" lengthAdjust="spacingAndGlyphs">0.50</text>
<line x1="195.3" y1="1622.8" x2="200.2" y2="1622.8" stroke="#333" stroke-width="1.4"/>
<text x="147.39" y="1728.90" font-size="25.58" textLength="45.27" lengthAdjust="spacingAndGlyphs">0.25</text>
<line x1="195.3" y1="1720.0" x2="200.2" y2="1720.0" stroke="#333" stroke-width="1.4"/>
<text x="147.39" y="1826.10" font-size="25.58" textLength="45.19" lengthAdjust="spacingAndGlyphs">0.00</text>
<line x1="195.3" y1="1817.2" x2="200.2" y2="1817.2" stroke="#333" stroke-width="1.4"/>
<line x1="239.3" y1="1836" x2="239.3" y2="1840.8" stroke="#333" stroke-width="1.4"/>
<text x="232.73" y="1861.40" font-size="23.55" textLength="13.12" lengthAdjust="spacingAndGlyphs">0</text>
<line x1="395.9" y1="1836" x2="395.9" y2="1840.8" stroke="#333" stroke-width="1.4"/>
<text x="381.32" y="1861.40" font-size="23.55" textLength="28.43" lengthAdjust="spacingAndGlyphs">12</text>
<line x1="552.4" y1="1836" x2="552.4" y2="1840.8" stroke="#333" stroke-width="1.4"/>
<text x="538.60" y="1861.40" font-size="23.55" textLength="27.13" lengthAdjust="spacingAndGlyphs">24</text>
<line x1="709.0" y1="1836" x2="709.0" y2="1840.8" stroke="#333" stroke-width="1.4"/>
<text x="695.45" y="1861.40" font-size="23.55" textLength="27.19" lengthAdjust="spacingAndGlyphs">36</text>
<line x1="865.5" y1="1836" x2="865.5" y2="1840.8" stroke="#333" stroke-width="1.4"/>
<text x="852.41" y="1861.40" font-size="23.55" textLength="26.77" lengthAdjust="spacingAndGlyphs">48</text>
<line x1="1022.1" y1="1836" x2="1022.1" y2="1840.8" stroke="#333" stroke-width="1.4"/>
<text x="1008.27" y="1861.40" font-size="23.55" textLength="27.37" lengthAdjust="spacingAndGlyphs">60</text>
<text x="493.09" y="1890.00" font-size="29.07" textLength="276.38" lengthAdjust="spacingAndGlyphs">OS (Time in months)</text>
<text transform="translate(136.6,1747.73) rotate(-90)" x="0" y="0" font-size="30.96" textLength="248.78" lengthAdjust="spacingAndGlyphs">Survival probability</text>
<path d="M239.5 1428.9H399.9V1437.7H416.6V1446.4H454.0V1455.2H470.2V1464.6H514.2V1474.1H545.3V1484.0H581.0V1494.3H625.0V1506.3H778.4V1519.3H786.0V1532.2H825.4V1545.3H1022.3" fill="none" stroke="#D95F02" stroke-width="3.2" stroke-linejoin="miter"/>
<path d="M239.1 1429.0H245.2V1429.7H252.8V1430.9H260.3V1432.0H264.9V1433.3H269.4V1434.7H272.4V1436.4H275.5V1438.1H279.3V1439.8H283.1V1441.6H286.9V1442.9H290.7V1444.3H302.8V1444.6H304.3V1449.1H310.4V1451.4H321.0V1452.6H326.4V1454.2H331.7V1455.7H337.8V1457.2H343.8V1458.7H347.6V1460.3H351.4V1462.0H355.2V1463.4H359.0V1464.8H360.5V1466.4H362.0V1468.1H369.6V1469.3H371.1V1471.2H372.6V1473.0H374.1V1474.9H375.7V1480.2H383.2V1482.5H387.0V1484.0H390.8V1485.6H393.9V1487.4H396.9V1489.3H403.0V1490.9H404.5V1492.6H406.0V1494.2H416.6V1495.4H418.9V1497.3H421.2V1499.2H427.2V1501.2H430.2V1502.5H433.3V1503.8H436.2V1505.7H439.1V1507.5H451.2V1507.8H455.0V1509.5H458.8V1511.3H469.4V1511.3H470.9V1512.7H472.5V1514.0H483.1V1514.3H486.1V1515.9H493.7V1516.2H495.2V1517.6H496.8V1518.9H498.7V1522.0H500.6V1525.0H516.5V1525.3H518.0V1526.9H536.2V1527.2H538.5V1528.8H540.8V1530.3H545.3V1532.1H557.4V1532.1H560.5V1534.5H569.6V1534.8H571.1V1536.3H581.7V1536.6H583.6V1539.9H585.5V1543.2H589.3V1545.4H603.0V1546.2H605.2V1548.1H607.5V1550.0H609.0V1553.0H610.5V1556.1H613.5V1557.6H616.6V1559.1H628.8V1561.4H630.3V1564.8H631.8V1568.2H633.3V1569.7H634.8V1571.2H642.4V1572.0H643.9V1573.1H654.4V1573.1H655.9V1575.2H657.4V1577.2H662.8V1578.8H670.3V1580.7H674.9V1582.5H703.0V1582.5H704.9V1584.7H706.8V1586.8H709.0V1588.6H711.3V1590.4H718.9V1590.9H720.4V1592.9H721.9V1595.0H723.4V1597.0H725.7V1598.8H728.0V1600.5H749.2V1600.8H750.8V1602.3H752.3V1603.8H759.9V1605.0H762.1V1606.5H764.4V1608.0H775.0V1608.6H776.5V1610.9H784.9V1611.4H787.2V1614.7H803.1V1615.2H804.6V1616.7H812.2V1617.1H814.5V1619.0H818.3V1620.5H827.4V1620.8H828.9V1622.6H830.4V1624.4H831.9V1626.2H844.6V1627.2H846.1V1628.8H847.6V1630.4H867.3V1630.9H868.8V1632.8H870.3V1634.7H876.4V1635.4H877.9V1637.4H899.2V1637.7H900.7V1639.2H921.9V1639.2H924.2V1641.5H935.6V1642.0H937.1V1643.8H985.7V1643.8H987.2V1646.1H1022.3V1646.1" fill="none" stroke="#7570B3" stroke-width="3.2" stroke-linejoin="miter"/>
<path d="M242.4 1427.6h7.2M246.0 1423.3v8.6M253.1 1427.6h7.2M256.7 1423.3v8.6M291.9 1427.6h7.2M295.5 1423.3v8.6M432.7 1445.1h7.2M436.3 1440.8v8.6M450.6 1453.2h7.2M454.2 1448.9v8.6M502.3 1463.3h7.2M505.9 1459.0v8.6M538.7 1472.8h7.2M542.3 1468.5v8.6M542.9 1482.7h7.2M546.5 1478.4v8.6M547.0 1482.7h7.2M550.6 1478.4v8.6M557.2 1482.7h7.2M560.8 1478.4v8.6M590.3 1493.0h7.2M593.9 1488.7v8.6M607.3 1493.0h7.2M610.9 1488.7v8.6M625.9 1505.0h7.2M629.5 1500.7v8.6M695.3 1505.0h7.2M698.9 1500.7v8.6M698.3 1505.0h7.2M701.9 1500.7v8.6M903.5 1544.0h7.2M907.1 1539.7v8.6M1017.9 1544.0h8.8M1022.3 1539.7v8.6" fill="none" stroke="#D95F02" stroke-width="1.9"/>
<path d="M240.9 1428.2h7.2M244.5 1423.9v8.6M242.4 1428.5h7.2M246.0 1424.2v8.6M286.9 1442.4h7.2M290.5 1438.1v8.6M306.9 1450.2h7.2M310.5 1445.9v8.6M310.6 1450.7h7.2M314.2 1446.4v8.6M315.2 1451.2h7.2M318.8 1446.9v8.6M328.4 1454.4h7.2M332.0 1450.1v8.6M340.6 1457.3h7.2M344.2 1453.0v8.6M387.9 1484.7h7.2M391.5 1480.4v8.6M401.9 1492.3h7.2M405.5 1488.0v8.6M422.9 1499.7h7.2M426.5 1495.4v8.6M448.4 1506.3h7.2M452.0 1502.0v8.6M466.2 1510.0h7.2M469.8 1505.7v8.6M490.1 1514.8h7.2M493.7 1510.5v8.6M524.7 1525.8h7.2M528.3 1521.5v8.6M551.1 1530.8h7.2M554.7 1526.5v8.6M651.1 1571.8h7.2M654.7 1567.5v8.6M654.3 1575.9h7.2M657.9 1571.6v8.6M670.5 1581.1h7.2M674.1 1576.8v8.6M699.8 1581.2h7.2M703.4 1576.9v8.6M725.9 1599.3h7.2M729.5 1595.0v8.6M750.2 1602.7h7.2M753.8 1598.4v8.6M848.5 1629.3h7.2M852.1 1625.0v8.6M853.4 1629.4h7.2M857.0 1625.1v8.6M899.4 1637.2h7.2M903.0 1632.9v8.6M914.5 1637.9h7.2M918.1 1633.6v8.6M918.8 1638.1h7.2M922.4 1633.8v8.6M927.9 1640.6h7.2M931.5 1636.3v8.6M1007.8 1644.8h7.2M1011.4 1640.5v8.6M1018.1 1644.8h8.8M1022.5 1640.5v8.6" fill="none" stroke="#7570B3" stroke-width="1.9"/>
<text x="1064.84" y="1627.90" font-size="29.65" textLength="139.80" lengthAdjust="spacingAndGlyphs">Age group</text>
<path d="M1066 1675.4H1086.6" stroke="#D95F02" stroke-width="2.6" fill="none"/>
<path d="M1076.3 1671.7v7.4" stroke="#D95F02" stroke-width="1.7" fill="none"/>
<text x="1102.16" y="1683.80" font-size="22.97" textLength="41.08" lengthAdjust="spacingAndGlyphs">AYA</text>
<path d="M1066 1738.1H1086.6" stroke="#7570B3" stroke-width="2.6" fill="none"/>
<path d="M1076.3 1734.4v7.4" stroke="#7570B3" stroke-width="1.7" fill="none"/>
<text x="1101.13" y="1746.60" font-size="22.97" textLength="33.02" lengthAdjust="spacingAndGlyphs">OA</text>
<text x="203.40" y="1928.60" font-size="28.49" textLength="198.22" lengthAdjust="spacingAndGlyphs">Number at risk</text>
<rect x="200.2" y="1939.5" width="861.1" height="105" fill="#fff" stroke="#B5B5B5" stroke-width="1.5"/>
<rect x="1063.4" y="1939.1" width="313.5" height="105.4" fill="#fff" stroke="#B5B5B5" stroke-width="1.6"/>
<rect x="171.7" y="1957.9" width="35.5" height="6.2" fill="#D95F02"/>
<rect x="171.7" y="2006.2" width="35.5" height="6.2" fill="#7570B3"/>
<text x="224.50" y="1976.70" font-size="24.13" textLength="27.70" lengthAdjust="spacingAndGlyphs">47</text>
<text x="381.11" y="1976.70" font-size="24.13" textLength="27.15" lengthAdjust="spacingAndGlyphs">44</text>
<text x="537.29" y="1976.70" font-size="24.13" textLength="28.13" lengthAdjust="spacingAndGlyphs">32</text>
<text x="693.60" y="1976.70" font-size="24.13" textLength="27.89" lengthAdjust="spacingAndGlyphs">24</text>
<text x="850.17" y="1976.70" font-size="24.13" textLength="28.41" lengthAdjust="spacingAndGlyphs">21</text>
<text x="1006.79" y="1976.70" font-size="24.13" textLength="28.13" lengthAdjust="spacingAndGlyphs">20</text>
<text x="216.37" y="2025.20" font-size="24.13" textLength="42.74" lengthAdjust="spacingAndGlyphs">224</text>
<text x="372.26" y="2025.20" font-size="24.13" textLength="43.70" lengthAdjust="spacingAndGlyphs">180</text>
<text x="528.85" y="2025.20" font-size="24.13" textLength="43.95" lengthAdjust="spacingAndGlyphs">149</text>
<text x="685.35" y="2025.20" font-size="24.13" textLength="43.99" lengthAdjust="spacingAndGlyphs">116</text>
<text x="850.29" y="2025.20" font-size="24.13" textLength="28.02" lengthAdjust="spacingAndGlyphs">90</text>
<text x="1006.74" y="2025.20" font-size="24.13" textLength="28.50" lengthAdjust="spacingAndGlyphs">77</text>
<text x="1082.06" y="1926.20" font-size="29.07" textLength="160.48" lengthAdjust="spacingAndGlyphs">HR(95% CI)</text>
<text x="1316.96" y="1926.20" font-size="29.07" textLength="17.76" lengthAdjust="spacingAndGlyphs">p</text>
<text x="1067.99" y="1977.20" font-size="24.13" textLength="199.12" lengthAdjust="spacingAndGlyphs">0.431 (0.232-0.8)</text>
<text x="1289.28" y="1977.20" font-size="24.13" textLength="80.35" lengthAdjust="spacingAndGlyphs">0.0077</text>
<text x="1158.24" y="2025.20" font-size="24.13" textLength="10.69" lengthAdjust="spacingAndGlyphs">1</text>
<text x="1319.57" y="2025.20" font-size="24.13" textLength="8.56" lengthAdjust="spacingAndGlyphs">-</text>
</svg></body></html>
